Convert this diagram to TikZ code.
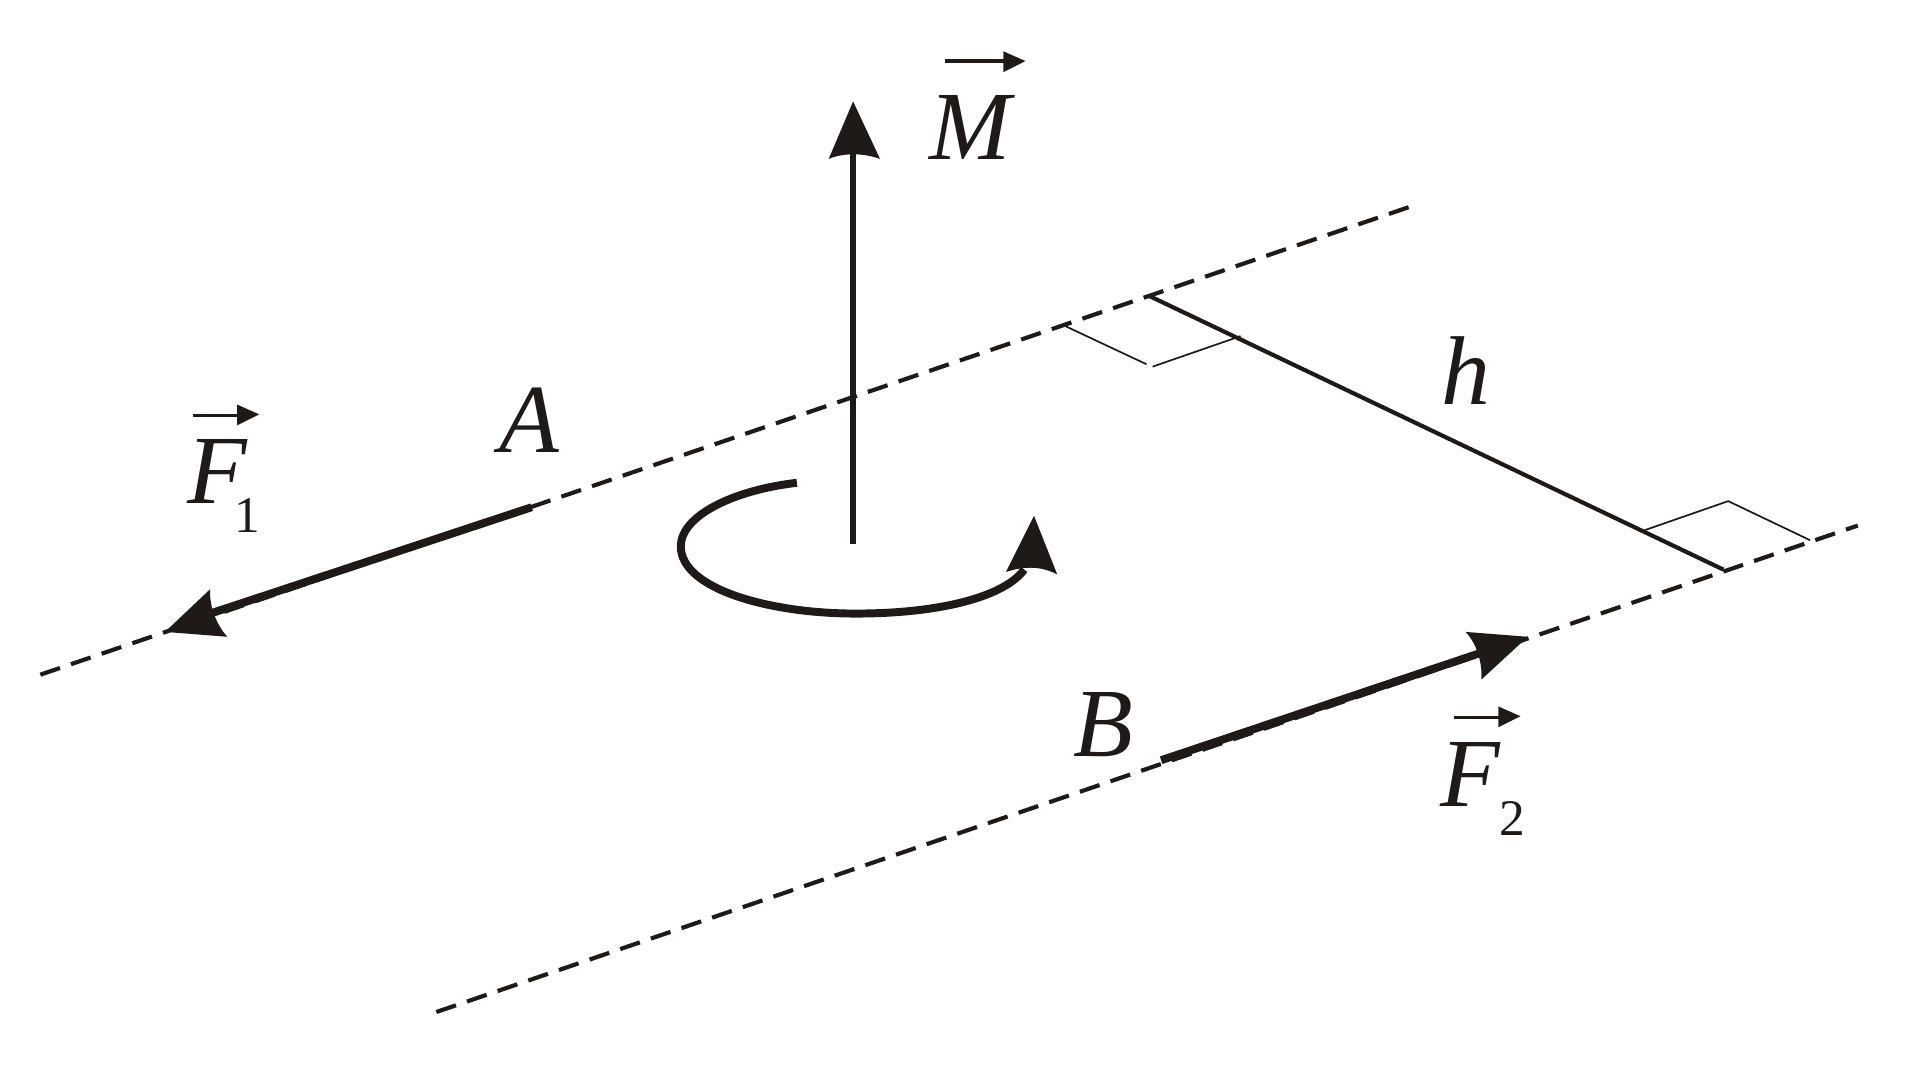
\documentclass[tikz,border=0pt]{standalone}
\usepackage{fontspec}
\setmainfont{Liberation Serif}
\definecolor{ink}{HTML}{1F1A17}
\newcommand{\labelfont}{\fontsize{80}{80}\selectfont\itshape}
\newcommand{\subfont}{\fontsize{42}{42}\selectfont}
\tikzset{
  dashline/.style={draw=ink,line width=3.4pt,dash pattern=on 17pt off 9.5pt},
  force/.style={draw=ink,line width=6.5pt},
  moment/.style={draw=ink,line width=5.5pt},
  perp/.style={draw=ink,line width=3.4pt},
  thinline/.style={draw=ink,line width=1.4pt},
  headfill/.style={fill=ink,draw=none},
  labeltext/.style={inner sep=0pt,text=ink,font=\labelfont},
  subtext/.style={inner sep=0pt,text=ink,font=\subfont},
  vecbar/.style={draw=ink,line width=3pt}
}
\begin{document}
\begin{tikzpicture}[x=1pt,y=-1pt]
\useasboundingbox (0,0) rectangle (1566,884.5);
% dashed lines
\coordinate (la) at (33,552);
\coordinate (lb) at (1157,168);
\coordinate (lc) at (357,828);
\coordinate (ld) at (1520,430);
\draw[dashline] (la) -- (lb);
\draw[dashline] (lc) -- (ld);
% forces
\coordinate (A) at (435,415);
\coordinate (F1tip) at (135,517);
\coordinate (F1base) at (172,502);
\draw[force] (A) -- (F1base);
\fill[headfill] (F1tip) -- (172,482) .. controls (171,494) and (176,510) .. (186,521) -- cycle;
\coordinate (B) at (950,622);
\coordinate (F2tip) at (1250,521);
\coordinate (F2base) at (1212,534);
\draw[force] (B) -- (F2base);
\fill[headfill] (F2tip) -- (1199,517) .. controls (1208,526) and (1213,542) .. (1212,556) -- cycle;
% moment vector
\coordinate (Mbot) at (698,445);
\coordinate (Mtop) at (698,126);
\draw[moment] (Mbot) -- (Mtop);
\fill[headfill] (698,83) -- (678,130) .. controls (690,125) and (706,125) .. (720,130) -- cycle;
% rotation arrow
\coordinate (c0) at (652,395);
\coordinate (c1) at (557,447);
\coordinate (c2) at (700,502);
\coordinate (c3) at (838,466);
\draw[draw=ink,line width=6.5pt] (c0) .. controls (600,401) and (557,422) .. (c1)
  .. controls (557,482) and (630,502) .. (c2)
  .. controls (770,502) and (822,488) .. (c3);
\fill[headfill] (846,422) -- (823,468) .. controls (835,464) and (850,462) .. (865,470) -- cycle;
% distance h
\coordinate (h1) at (940,242);
\coordinate (h2) at (1410,466);
\draw[perp] (h1) -- (h2);
\coordinate (r1) at (872,267);
\coordinate (r2) at (938,298);
\coordinate (r3) at (943,300);
\coordinate (r4) at (1015,275);
\draw[thinline] (r1) -- (r2);
\draw[thinline] (r3) -- (r4);
\coordinate (s1) at (1345,434);
\coordinate (s2) at (1414,410);
\coordinate (s3) at (1481,442);
\draw[thinline] (s1) -- (s2) -- (s3);
% labels
\node[labeltext] (lM) at (794,104) {M};
\coordinate (Ma) at (773,50);
\coordinate (Mb) at (824,50);
\draw[vecbar] (Ma) -- (Mb);
\fill[headfill] (839,50) -- (821,42) -- (821,59) -- cycle;
\node[labeltext] (lA) at (433,344) {A};
\node[labeltext] (lF1) at (178,386) {F};
\node[subtext] (l1) at (202,422) {1};
\coordinate (Fa) at (158,340);
\coordinate (Fb) at (198,340);
\draw[vecbar] (Fa) -- (Fb);
\fill[headfill] (212,339) -- (194,331) -- (194,348) -- cycle;
\node[labeltext] (lB) at (903,593) {B};
\node[labeltext] (lF2) at (1203,634) {F};
\node[subtext] (l2) at (1237,670) {2};
\coordinate (Ga) at (1190,587);
\coordinate (Gb) at (1230,587);
\draw[vecbar] (Ga) -- (Gb);
\fill[headfill] (1244,586) -- (1226,578) -- (1226,595) -- cycle;
\node[labeltext] (lh) at (1199,303) {h};
\end{tikzpicture}
\end{document}
